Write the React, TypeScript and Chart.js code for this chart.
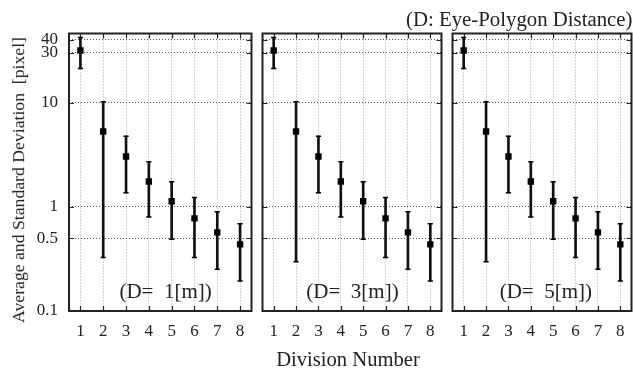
import React, { useEffect, useRef } from "react";
import { Chart, registerables } from "chart.js";

Chart.register(...registerables);

// ---------- data ----------
const DIVISIONS = ["1", "2", "3", "4", "5", "6", "7", "8"];
const Y_TICKS = [0.1, 0.5, 1, 10, 30, 40];

const MEAN_D1 = [31.6, 5.28, 3.04, 1.75, 1.13, 0.774, 0.568, 0.436];
const UPPER_D1 = [42.1, 10.2, 4.76, 2.7, 1.74, 1.23, 0.895, 0.687];
const LOWER_D1 = [21.2, 0.327, 1.36, 0.8, 0.487, 0.327, 0.251, 0.194];

const MEAN_D3 = [31.6, 5.28, 3.04, 1.75, 1.13, 0.774, 0.568, 0.436];
const UPPER_D3 = [42.1, 10.2, 4.76, 2.7, 1.74, 1.23, 0.895, 0.687];
const LOWER_D3 = [21.2, 0.297, 1.36, 0.8, 0.487, 0.327, 0.251, 0.194];

const MEAN_D5 = [31.6, 5.28, 3.04, 1.75, 1.13, 0.774, 0.568, 0.436];
const UPPER_D5 = [42.1, 10.2, 4.76, 2.7, 1.74, 1.23, 0.895, 0.687];
const LOWER_D5 = [21.2, 0.297, 1.36, 0.8, 0.487, 0.327, 0.251, 0.194];

const PANEL_LABELS = ["(D=  1[m])", "(D=  3[m])", "(D=  5[m])"];
const CAPTION = "(D: Eye-Polygon Distance)";
const X_TITLE = "Division Number";
const Y_TITLE = "Average and Standard Deviation  [pixel]";

// ---------- layout ----------
const FONT = "'Liberation Serif', 'Times New Roman', serif";
const W = 633;
const H = 369;

const PANELS = [
  { left: 0, width: 257, padLeft: 0, padRight: 3, showY: true, mean: MEAN_D1, upper: UPPER_D1, lower: LOWER_D1, labelX: 165.6 },
  { left: 257, width: 190, padLeft: 2, padRight: 2.3, showY: false, mean: MEAN_D3, upper: UPPER_D3, lower: LOWER_D3, labelX: 352.5 },
  { left: 447, width: 190, padLeft: 2.3, padRight: 2.7, showY: false, mean: MEAN_D5, upper: UPPER_D5, lower: LOWER_D5, labelX: 545.8 },
];

const boxPlugin = {
  id: "panelBox",
  afterDraw(chart: any) {
    const { ctx, chartArea } = chart;
    const { left, right, top, bottom } = chartArea;
    const xs = chart.scales.x;
    const ys = chart.scales.y;
    ctx.save();
    ctx.strokeStyle = "#222";
    ctx.lineWidth = 1.2;
    ctx.beginPath();
    ys.ticks.forEach((t: any) => {
      const y = Math.round(ys.getPixelForValue(t.value)) + 0.5;
      ctx.moveTo(left, y);
      ctx.lineTo(left + 5, y);
      ctx.moveTo(right, y);
      ctx.lineTo(right - 5, y);
    });
    xs.ticks.forEach((_t: any, i: number) => {
      const x = Math.round(xs.getPixelForTick(i)) + 0.5;
      ctx.moveTo(x, bottom);
      ctx.lineTo(x, bottom - 5);
      ctx.moveTo(x, top);
      ctx.lineTo(x, top + 5);
    });
    ctx.stroke();
    ctx.lineWidth = 2;
    ctx.strokeStyle = "#222";
    ctx.strokeRect(left, top, right - left, bottom - top);
    ctx.restore();
  },
};

function makeConfig(p: (typeof PANELS)[number]): any {
  return {
    type: "bar",
    data: {
      labels: DIVISIONS,
      datasets: [
        {
          type: "line",
          data: p.mean,
          showLine: false,
          pointStyle: "rect",
          pointRadius: 4.5,
          pointBackgroundColor: "#000",
          pointBorderWidth: 0,
          pointBorderColor: "#000",
        },
        {
          type: "line",
          data: p.upper,
          showLine: false,
          pointStyle: "line",
          pointRadius: 2.6,
          pointBorderWidth: 1.5,
          pointBorderColor: "#000",
        },
        {
          type: "line",
          data: p.lower,
          showLine: false,
          pointStyle: "line",
          pointRadius: 2.6,
          pointBorderWidth: 1.5,
          pointBorderColor: "#000",
        },
        {
          type: "bar",
          data: p.lower.map((lo, i) => [lo, p.upper[i]]),
          backgroundColor: "#111",
          borderWidth: 0,
          barThickness: 2,
        },
      ],
    },
    options: {
      responsive: false,
      animation: false,
      devicePixelRatio: 1,
      layout: { padding: { left: p.padLeft, right: p.padRight, top: 33.5, bottom: 0 } },
      plugins: { legend: { display: false }, tooltip: { enabled: false } },
      scales: {
        x: {
          type: "category",
          offset: true,
          grid: { offset: false, color: "#aaa", lineWidth: 1, drawTicks: false },
          border: { display: false, dash: [1, 2] },
          ticks: {
            padding: 10,
            autoSkip: false,
            maxRotation: 0,
            color: "#222",
            font: { family: FONT, size: 17 },
          },
          afterFit: (s: any) => {
            s.height = 58;
          },
        },
        y: {
          type: "logarithmic",
          min: 0.1,
          max: 46,
          grid: { color: "#555", lineWidth: 1, drawTicks: false },
          border: { display: false, dash: [1, 2] },
          afterBuildTicks: (s: any) => {
            s.ticks = Y_TICKS.map((v) => ({ value: v }));
          },
          ticks: {
            display: p.showY,
            autoSkip: false,
            padding: 11,
            color: "#222",
            font: { family: FONT, size: 17 },
            callback: (v: any) => String(v),
          },
          afterFit: (s: any) => {
            s.width = p.showY ? 69 : 0;
          },
        },
      },
    },
    plugins: [boxPlugin],
  };
}

export default function App() {
  const refs = [useRef<HTMLCanvasElement>(null), useRef<HTMLCanvasElement>(null), useRef<HTMLCanvasElement>(null)];

  useEffect(() => {
    const charts = PANELS.map((p, i) => new Chart(refs[i].current as HTMLCanvasElement, makeConfig(p)));
    return () => charts.forEach((c) => c.destroy());
  }, []);

  return (
    <div
      style={{
        position: "absolute",
        left: 0,
        top: 0,
        width: W,
        height: H,
        overflow: "hidden",
        background: "#fff",
        fontFamily: FONT,
        color: "#222",
      }}
    >
      {PANELS.map((p, i) => (
        <canvas
          key={i}
          ref={refs[i]}
          width={p.width}
          height={H}
          style={{ position: "absolute", left: p.left, top: 0, width: p.width, height: H, display: "block" }}
        />
      ))}
      <div
        style={{
          position: "absolute",
          right: 0.5,
          top: 8.6,
          fontSize: 20.8,
          lineHeight: 1,
          whiteSpace: "pre",
        }}
      >
        {CAPTION}
      </div>
      <div
        style={{
          position: "absolute",
          left: 348,
          top: 349.4,
          fontSize: 20.6,
          lineHeight: 1,
          whiteSpace: "pre",
          transform: "translateX(-50%)",
        }}
      >
        {X_TITLE}
      </div>
      <div
        style={{
          position: "absolute",
          left: 19,
          top: 180,
          fontSize: 17.7,
          lineHeight: 1,
          whiteSpace: "pre",
          transform: "translate(-50%, -50%) rotate(-90deg)",
        }}
      >
        {Y_TITLE}
      </div>
      {PANELS.map((p, i) => (
        <div
          key={"l" + i}
          style={{
            position: "absolute",
            left: p.labelX,
            top: 281.4,
            fontSize: 21,
            lineHeight: 1,
            whiteSpace: "pre",
            transform: "translateX(-50%)",
          }}
        >
          {PANEL_LABELS[i]}
        </div>
      ))}
    </div>
  );
}
